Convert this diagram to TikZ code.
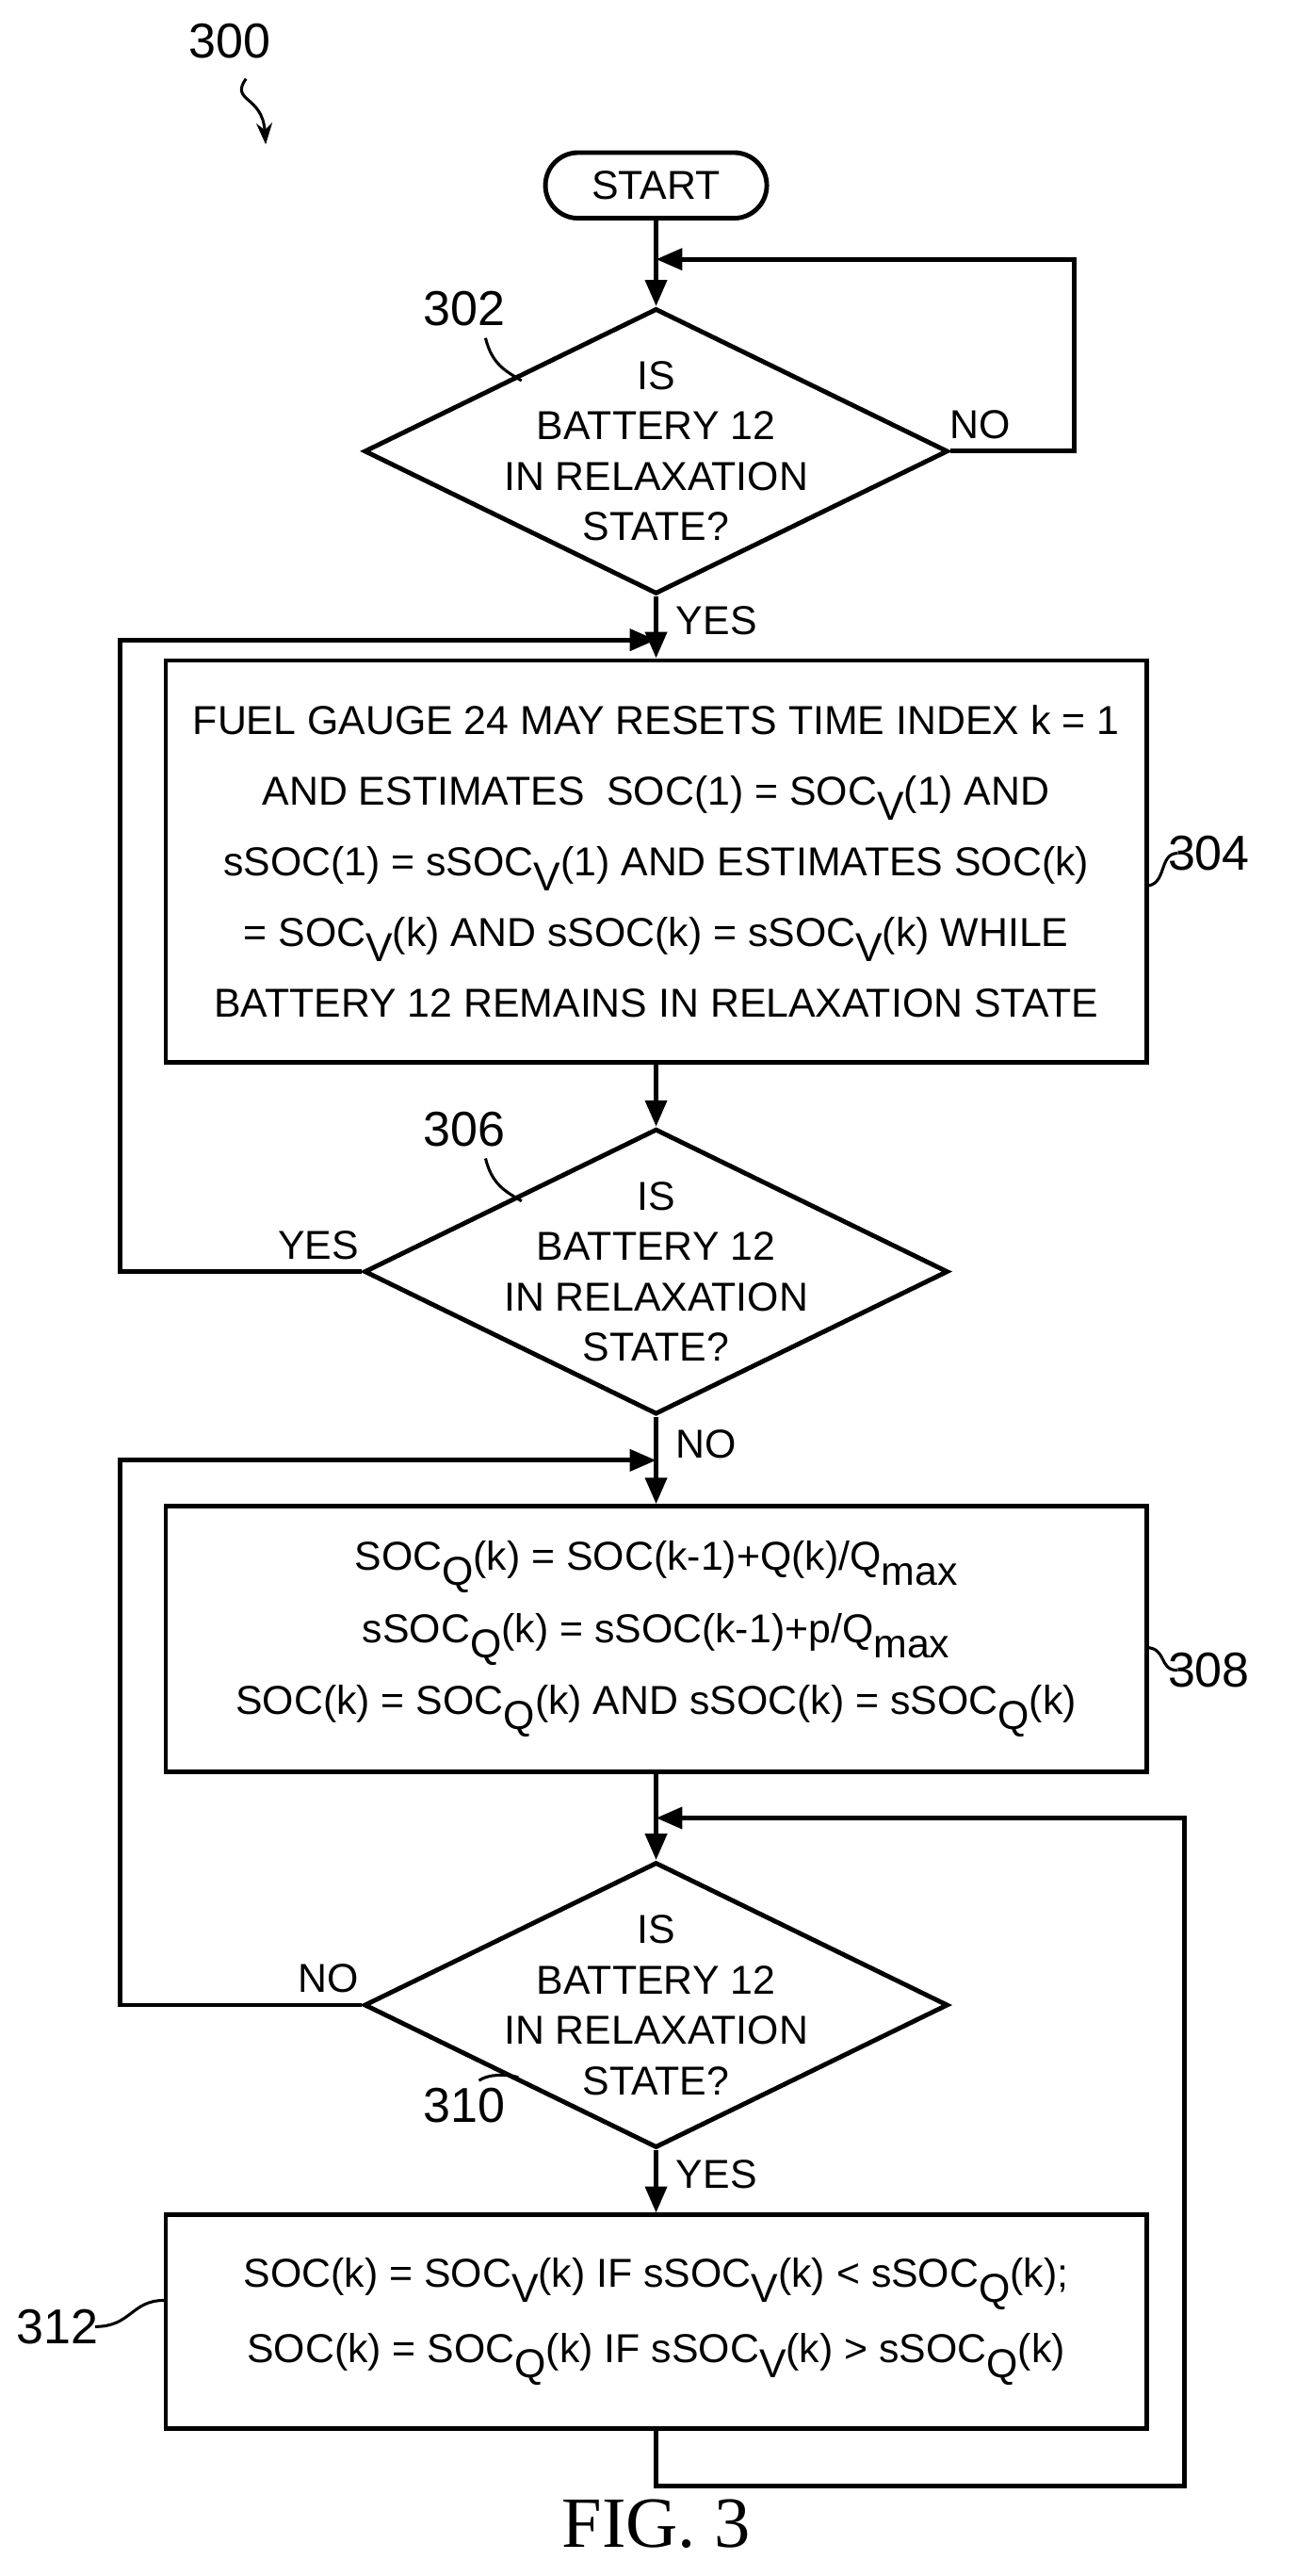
\documentclass[tikz,border=0pt]{standalone}
\usepackage{fontspec}
\setmainfont{Liberation Sans}
\newfontfamily\figfont{Liberation Serif}
\usetikzlibrary{arrows.meta, shapes.geometric, positioning, calc}
\newcommand\lo[1]{\raisebox{-0.7ex}{#1}}

\begin{document}
\begin{tikzpicture}[
                x=0.02cm, y=-0.02cm,
                line width=1.6pt,
                font=\fontsize{14}{17.5}\selectfont,
                flow/.style={-{Triangle[length=3.2mm,width=2.6mm]}},
                dia/.style={diamond, draw, minimum width=7.12cm, minimum height=3.48cm, inner sep=0pt},
                box/.style={draw, minimum width=11.96cm, align=center},
                lbl/.style={font=\fontsize{17}{20}\selectfont},
                lead/.style={line width=1pt}
            ]
                \useasboundingbox (0,0) rectangle (800,1570);
                % Nodes
                \node[draw, rounded corners=0.4cm, minimum width=2.7cm, minimum height=0.8cm] (start) at (400,113) {START};
                \node[dia] (d302) at (400,275) {};
                \node[align=center] at (d302) {IS\\BATTERY 12\\IN RELAXATION\\STATE?};
                \node[box, minimum height=4.9cm] (b304) at (400,525) {FUEL GAUGE 24 MAY RESETS TIME INDEX k = 1\\[7pt]
                    AND ESTIMATES\ \ SOC(1) = SOC\lo{V}(1) AND\\[7pt]
                    sSOC(1) = sSOC\lo{V}(1) AND ESTIMATES SOC(k)\\[7pt]
                    = SOC\lo{V}(k) AND sSOC(k) = sSOC\lo{V}(k) WHILE\\[7pt]
                    BATTERY 12 REMAINS IN RELAXATION STATE};
                \node[dia] (d306) at (400,775) {};
                \node[align=center] at (d306) {IS\\BATTERY 12\\IN RELAXATION\\STATE?};
                \node[box, minimum height=3.24cm] (b308) at (400,999) {SOC\lo{Q}(k) = SOC(k-1)+Q(k)/Q\lo{max}\\[6pt]
                    sSOC\lo{Q}(k) = sSOC(k-1)+p/Q\lo{max}\\[6pt]
                    SOC(k) = SOC\lo{Q}(k) AND sSOC(k) = sSOC\lo{Q}(k)};
                \node[dia] (d310) at (400,1222) {};
                \node[align=center] at (d310) {IS\\BATTERY 12\\IN RELAXATION\\STATE?};
                \node[box, minimum height=2.6cm] (b312) at (400,1415) {SOC(k) = SOC\lo{V}(k) IF sSOC\lo{V}(k) < sSOC\lo{Q}(k);\\[7pt]
                    SOC(k) = SOC\lo{Q}(k) IF sSOC\lo{V}(k) > sSOC\lo{Q}(k)};
                \coordinate (m302) at (400,158);
                \coordinate (m304) at (400,390);
                \coordinate (m308) at (400,890);
                \coordinate (m310) at (400,1108);

                % Edges
                \draw[flow] (start) -- (d302.north);
                \draw[flow] (d302.south) -- (b304.north);
                \draw[flow] (b304.south) -- (d306.north);
                \draw[flow] (d306.south) -- (b308.north);
                \draw[flow] (b308.south) -- (d310.north);
                \draw[flow] (d310.south) -- (b312.north);
                \draw[flow] (d302.east) -- (655,275) |- (m302);
                \draw[flow] (d306.west) -- (73,775) |- (m304);
                \draw[flow] (d310.west) -- (73,1222) |- (m308);
                \draw[flow] (b312.south) -- (400,1515) -| (722,1108) -- (m310);

                % Edge labels
                \node[anchor=west] at (572,259) {NO};
                \node[anchor=west] at (405,378) {YES};
                \node[anchor=east] at (226,759) {YES};
                \node[anchor=west] at (405,880) {NO};
                \node[anchor=east] at (226,1206) {NO};
                \node[anchor=west] at (405,1325) {YES};

                % Reference numerals
                \node[lbl] (n300) at (140,25) {300};
                \draw[lead, -{Stealth[length=2.6mm]}] (150,48) .. controls (140,62) and (160,58) .. (162,88);
                \node[lbl] (n302) at (283,188) {302};
                \draw[lead] (296,206) .. controls (300,222) and (308,226) .. (318,232);
                \node[lbl] (n304) at (737,520) {304};
                \draw[lead] (698,540) .. controls (712,540) and (706,520) .. (718,520);
                \node[lbl] (n306) at (283,688) {306};
                \draw[lead] (296,706) .. controls (300,722) and (308,726) .. (318,732);
                \node[lbl] (n308) at (737,1018) {308};
                \draw[lead] (698,1004) .. controls (712,1004) and (706,1018) .. (718,1018);
                \node[lbl] (n310) at (283,1283) {310};
                \draw[lead] (292,1268) .. controls (298,1264) and (308,1264) .. (316,1266);
                \node[lbl] (n312) at (35,1418) {312};
                \draw[lead] (58,1418) .. controls (80,1418) and (80,1402) .. (100,1402);

                \node[font=\figfont\fontsize{25}{28}\selectfont] (fig) at (400,1538) {FIG. 3};
            \end{tikzpicture}
\end{document}
